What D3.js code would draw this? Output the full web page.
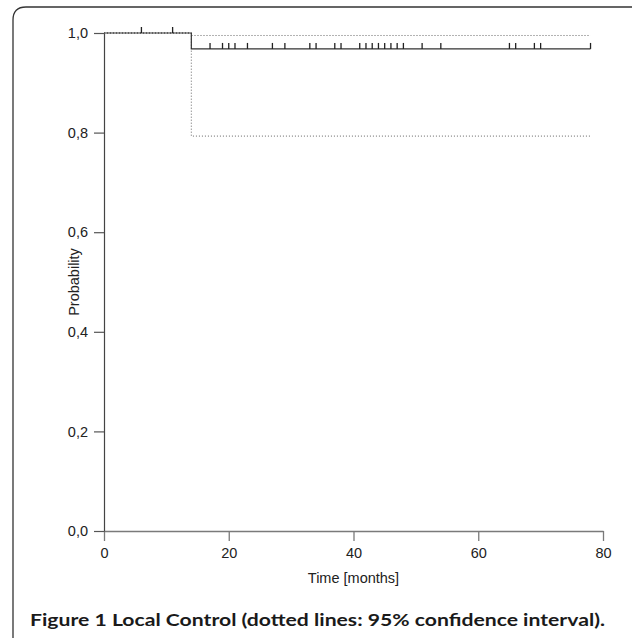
<!DOCTYPE html>
<html>
<head>
<meta charset="utf-8">
<script src="https://cdn.jsdelivr.net/npm/d3@7"></script>
<style>
  body { margin: 0; background: #fff; }
  svg { display: block; }
</style>
</head>
<body>
<div id="chart"></div>
<script>
// Kaplan-Meier: local control
const stepTimes = [0, 14];
const survival = [1.0, 0.968];
const upperCI = [1.0, 0.995];
const lowerCI = [1.0, 0.793];
const endTime = 78;

// censored observations (months)
const censorTimes = [6, 11, 17, 19, 20, 21, 23, 27, 29, 33, 34, 37, 38, 41, 42, 43, 44, 45, 46, 47, 48, 51, 54, 65, 66, 69, 70, 78];

const xTicks = [0, 20, 40, 60, 80];
const yTicks = [0, 0.2, 0.4, 0.6, 0.8, 1.0];

const w = 632, h = 638;

const svg = d3.select("#chart").append("svg")
  .attr("width", w)
  .attr("height", h);

// frame with rounded top-left corner
svg.append("path")
  .attr("d", "M13,640 L13,20 Q13,7 26,7 L632,7")
  .attr("fill", "none")
  .attr("stroke", "#333")
  .attr("stroke-width", 1.3);

const x = d3.scaleLinear().domain([0, 80]).range([104, 603]);
const y = d3.scaleLinear().domain([0, 1]).range([531, 33]);

// value of a step function at time t
function stepValue(vals, t) {
  let v = vals[0];
  stepTimes.forEach((s, i) => { if (t >= s) v = vals[i]; });
  return v;
}

function stepPoints(vals) {
  const pts = stepTimes.map((t, i) => [t, vals[i]]);
  pts.push([endTime, vals[vals.length - 1]]);
  return pts;
}

const line = d3.line()
  .x(d => x(d[0]))
  .y(d => y(d[1]))
  .curve(d3.curveStepAfter);

// axes
const xAxis = d3.axisBottom(x).tickValues(xTicks).tickSize(10).tickSizeOuter(0).tickPadding(7);
const gx = svg.append("g")
  .attr("transform", "translate(0," + y(0) + ")")
  .call(xAxis);
gx.select(".domain").attr("stroke", "#7a7a7a").attr("stroke-width", 1.3);
gx.selectAll(".tick line").attr("stroke", "#7a7a7a").attr("stroke-width", 1.3);

const yAxis = d3.axisLeft(y).tickValues(yTicks).tickSize(10).tickSizeOuter(0).tickPadding(6)
  .tickFormat(d => d.toFixed(1).replace(".", ","));
const gy = svg.append("g")
  .attr("transform", "translate(" + x(0) + ",0)")
  .call(yAxis);
gy.select(".domain").attr("stroke", "#444").attr("stroke-width", 1.2);
gy.selectAll(".tick line").attr("stroke", "#555").attr("stroke-width", 1.2);

[gx, gy].forEach(g => g
  .attr("font-family", "Liberation Sans, Arial, sans-serif")
  .attr("font-size", 14.5));
svg.selectAll(".tick text").attr("fill", "#222");

// confidence interval (dotted)
[upperCI, lowerCI].forEach(vals => {
  svg.append("path")
    .attr("d", line(stepPoints(vals)))
    .attr("fill", "none")
    .attr("stroke", "#666")
    .attr("stroke-width", 1)
    .attr("stroke-dasharray", "1,2");
});

// survival curve
svg.append("path")
  .attr("d", line(stepPoints(survival)))
  .attr("fill", "none")
  .attr("stroke", "#333")
  .attr("stroke-width", 1.2);

// censor marks
svg.selectAll(".censor")
  .data(censorTimes)
  .enter()
  .append("line")
  .attr("class", "censor")
  .attr("x1", d => x(d))
  .attr("x2", d => x(d))
  .attr("y1", d => y(stepValue(survival, d)))
  .attr("y2", d => y(stepValue(survival, d)) - 6)
  .attr("stroke", "#222")
  .attr("stroke-width", 1.3);

// axis titles
svg.append("text")
  .attr("x", (x(0) + x(80)) / 2)
  .attr("y", 583)
  .attr("text-anchor", "middle")
  .attr("font-family", "Liberation Sans, Arial, sans-serif")
  .attr("font-size", 14.5)
  .attr("fill", "#222")
  .text("Time [months]");

svg.append("text")
  .attr("transform", "translate(79," + y(0.5) + ") rotate(-90)")
  .attr("text-anchor", "middle")
  .attr("font-family", "Liberation Sans, Arial, sans-serif")
  .attr("font-size", 14.5)
  .attr("fill", "#222")
  .text("Probability");

// caption
svg.append("text")
  .attr("x", 30)
  .attr("y", 626)
  .attr("font-family", "Lato, sans-serif")
  .attr("font-weight", "bold")
  .attr("font-size", 17.5)
  .attr("fill", "#1a1a1a")
  .attr("textLength", 575)
  .attr("lengthAdjust", "spacingAndGlyphs")
  .text("Figure 1 Local Control (dotted lines: 95% confidence interval).");
</script>
</body>
</html>
